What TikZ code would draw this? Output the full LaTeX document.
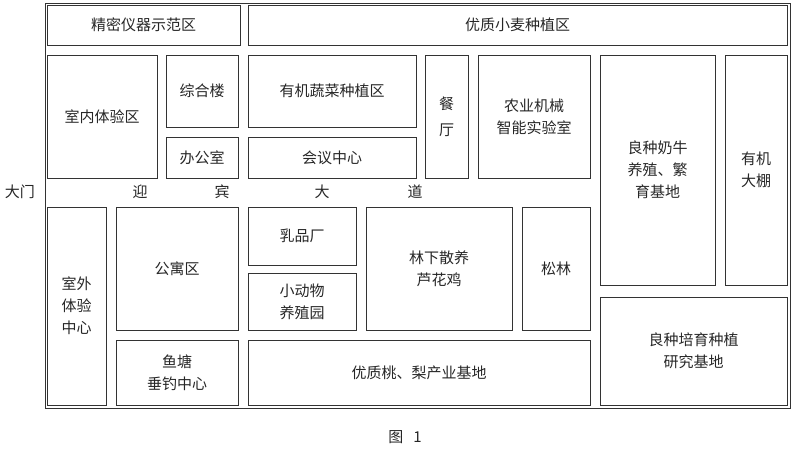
\documentclass[tikz,border=0pt]{standalone}
\usepackage{fontspec}
\newfontfamily\cjk{Noto Sans CJK SC}
\begin{document}
\begin{tikzpicture}[x=1pt,y=-1pt,font=\cjk\fontsize{15}{22}\selectfont,
  zone/.style={draw=black!80,line width=0.8pt},
  lbl/.style={align=center,text=black!85,inner sep=0pt}]
\useasboundingbox (0,0) rectangle (792,451);
\newcommand\zone[6]{\draw[zone] (#1,#2) rectangle (#3,#4) node[midway,lbl] (#5) {#6};}
\draw[zone] (45,3) rectangle (790,408);
\zone{47}{5}{240}{45}{jm}{精密仪器示范区}
\zone{248}{5}{787}{45}{xm}{优质小麦种植区}
\zone{47}{55}{157}{178}{sn}{室内体验区}
\zone{166}{55}{238}{127}{zh}{综合楼}
\zone{166}{137}{238}{178}{bg}{办公室}
\zone{248}{55}{416}{127}{sc}{有机蔬菜种植区}
\zone{248}{137}{416}{178}{hy}{会议中心}
\zone{425}{55}{468}{178}{ct}{餐\\[4pt]厅}
\zone{478}{55}{590}{178}{ny}{农业机械\\智能实验室}
\zone{600}{55}{715}{285}{nn}{良种奶牛\\养殖、繁\\育基地}
\zone{725}{55}{787}{285}{dp}{有机\\大棚}
\zone{47}{207}{106}{405}{sw}{室外\\体验\\中心}
\zone{116}{207}{238}{330}{gy}{公寓区}
\zone{116}{340}{238}{405}{yt}{鱼塘\\垂钓中心}
\zone{248}{207}{356}{265}{rp}{乳品厂}
\zone{248}{273}{356}{330}{xd}{小动物\\养殖园}
\zone{366}{207}{512}{330}{lx}{林下散养\\芦花鸡}
\zone{522}{207}{590}{330}{sl}{松林}
\zone{248}{340}{590}{405}{tl}{优质桃、梨产业基地}
\zone{600}{297}{787}{405}{lz}{良种培育种植\\研究基地}
\node[lbl] (dm) at (20,192) {大门};
\node[lbl] (r1) at (140,192) {迎};
\node[lbl] (r2) at (222,192) {宾};
\node[lbl] (r3) at (322,192) {大};
\node[lbl] (r4) at (415,192) {道};
\node[lbl] (cap) at (405,437) {图\hspace{10pt}1};
\end{tikzpicture}
\end{document}
